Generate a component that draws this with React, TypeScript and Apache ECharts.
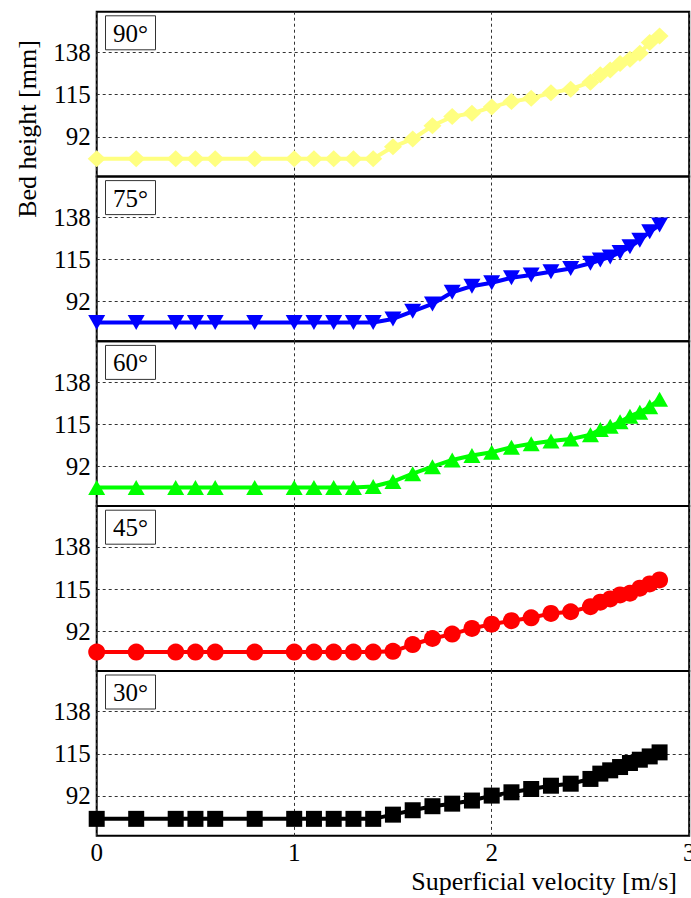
import React, { useEffect, useRef } from "react";
import * as echarts from "echarts";

// Superficial velocity [m/s] at which bed height was recorded
const velocity = [
  0, 0.2, 0.4, 0.5, 0.6, 0.8, 1.0, 1.1, 1.2, 1.3, 1.4, 1.5, 1.6, 1.7, 1.8, 1.9,
  2.0, 2.1, 2.2, 2.3, 2.4, 2.5, 2.55, 2.6, 2.65, 2.7, 2.75, 2.8, 2.85,
];

// Bed height [mm] for each inclination angle
const height90 = [
  80, 80, 80, 80, 80, 80, 80, 80, 80, 80, 80, 86.5, 90.8, 98, 103, 104.8,
  108.2, 111.2, 113, 116, 118, 121.8, 125.8, 128.5, 132, 134.3, 137.6, 143.5, 147,
];
const height75 = [
  80.5, 80.5, 80.5, 80.5, 80.5, 80.5, 80.5, 80.5, 80.5, 80.5, 80.6, 82.5, 86.7,
  90.7, 97.1, 100.4, 102.3, 105, 106.5, 108.3, 110.1, 112.9, 114.7, 116.4, 118.8,
  121.9, 125.5, 130.1, 133.8,
];
const height60 = [
  80.4, 80.4, 80.4, 80.4, 80.4, 80.4, 80.4, 80.4, 80.4, 80.4, 81, 83.7, 88,
  91.8, 95.5, 97.9, 99.7, 102.5, 104.3, 105.8, 106.9, 109.3, 112.2, 113.9, 116.3,
  119.4, 121.6, 124.6, 128.6,
];
const height45 = [
  80.6, 80.6, 80.6, 80.6, 80.6, 80.6, 80.6, 80.6, 80.6, 80.6, 80.6, 81, 84.7,
  88, 90.4, 93.5, 95.8, 97.7, 99.3, 101.7, 102.6, 105.4, 107.8, 109.6, 111.8,
  112.7, 115.5, 117.8, 120,
];
const height30 = [
  79.5, 79.5, 79.5, 79.5, 79.5, 79.5, 79.5, 79.5, 79.5, 79.5, 79.5, 81.8, 84.2,
  86.4, 87.8, 89.5, 92.2, 94, 95.8, 97.6, 98.7, 101.3, 104.2, 106, 107.8, 110,
  111.8, 113.6, 115.8,
];

const angleLabels = ["90°", "75°", "60°", "45°", "30°"];
const heightTicks = [92, 115, 138];
const xLabel = "Superficial velocity [m/s]";
const yLabel = "Bed height [mm]";

const SERIF = "Liberation Serif, Times New Roman, serif";

// Marker / colour style of each stacked panel, top to bottom
const panelStyles = [
  { values: height90, color: "#ffff80", symbol: "diamond", size: [18, 17], rotate: 0 },
  { values: height75, color: "#0000ff", symbol: "triangle", size: [17, 15], rotate: 180 },
  { values: height60, color: "#00ff00", symbol: "triangle", size: [17, 15], rotate: 0 },
  { values: height45, color: "#ff0000", symbol: "circle", size: 17, rotate: 0 },
  { values: height30, color: "#000000", symbol: "rect", size: 16, rotate: 0 },
];

const PLOT_LEFT = 96.7;
const PLOT_WIDTH = 592.5;
const PLOT_TOP = 11.7;
const PANEL_H = 164.8;

const gridLine = { show: true, lineStyle: { color: "#333", width: 1, type: [3, 3] } };
const tickFont = { fontFamily: SERIF, fontSize: 25, color: "#000" };

export default function App() {
  const ref = useRef<HTMLDivElement>(null);

  useEffect(() => {
    if (!ref.current) return;
    const chart = echarts.init(ref.current, undefined, { renderer: "svg" });

    const grid = panelStyles.map((_, i) => ({
      left: PLOT_LEFT,
      top: PLOT_TOP + i * PANEL_H,
      width: PLOT_WIDTH,
      height: PANEL_H,
      show: true,
      containLabel: false,
      outerBoundsMode: "none",
      borderColor: "#000",
      borderWidth: 2,
      backgroundColor: "transparent",
    }));

    const xAxis = panelStyles.map((_, i) => ({
      type: "value",
      gridIndex: i,
      min: 0,
      max: 3,
      interval: 1,
      axisLine: { show: false },
      axisTick: { show: false },
      axisLabel: {
        show: i === panelStyles.length - 1,
        showMinLabel: true,
        showMaxLabel: true,
        hideOverlap: false,
        ...tickFont,
        formatter: "{t|{value}}",
        rich: { t: { ...tickFont } },
        margin: 4,
      },
      splitLine: gridLine,
    }));

    const yAxis = panelStyles.map((_, i) => ({
      type: "value",
      gridIndex: i,
      min: 70.3,
      max: 160.3,
      axisLine: { show: false },
      axisTick: { show: false, customValues: heightTicks },
      axisLabel: {
        customValues: heightTicks,
        hideOverlap: false,
        ...tickFont,
        formatter: "{t|{value}}",
        rich: { t: { ...tickFont } },
        margin: 6,
      },
      splitLine: gridLine,
    }));

    const series = panelStyles.map((p, i) => ({
      type: "line",
      xAxisIndex: i,
      yAxisIndex: i,
      data: velocity.map((v, k) => [v, p.values[k]]),
      symbol: p.symbol,
      symbolSize: p.size,
      symbolRotate: p.rotate,
      showAllSymbol: true,
      clip: true,
      lineStyle: { color: p.color, width: 4 },
      itemStyle: { color: p.color, borderWidth: 0 },
      z: 3,
    }));

    const title = angleLabels.map((label, i) => ({
      text: label,
      left: 105,
      top: PLOT_TOP + 4.6 + i * PANEL_H,
      padding: [5, 8, 4, 8],
      borderColor: "#333",
      borderWidth: 1,
      backgroundColor: "#fff",
      textStyle: {
        fontFamily: SERIF,
        fontSize: 25,
        fontWeight: "normal",
        color: "#000",
        lineHeight: 24,
      },
    }));

    chart.setOption({
      animation: false,
      backgroundColor: "#fff",
      grid,
      xAxis,
      yAxis,
      series,
      title,
      graphic: [
        {
          type: "text",
          right: 14,
          top: 868,
          style: {
            text: xLabel,
            fontFamily: SERIF,
            fontSize: 26,
            fill: "#000",
          },
        },
        {
          type: "text",
          x: 27,
          y: 129,
          rotation: Math.PI / 2,
          style: {
            text: yLabel,
            fontFamily: SERIF,
            fontSize: 26,
            fill: "#000",
            align: "center",
            verticalAlign: "middle",
          },
        },
      ],
    });

    return () => chart.dispose();
  }, []);

  return (
    <div
      ref={ref}
      style={{ position: "absolute", left: 0, top: 0, width: 691, height: 898 }}
    />
  );
}
